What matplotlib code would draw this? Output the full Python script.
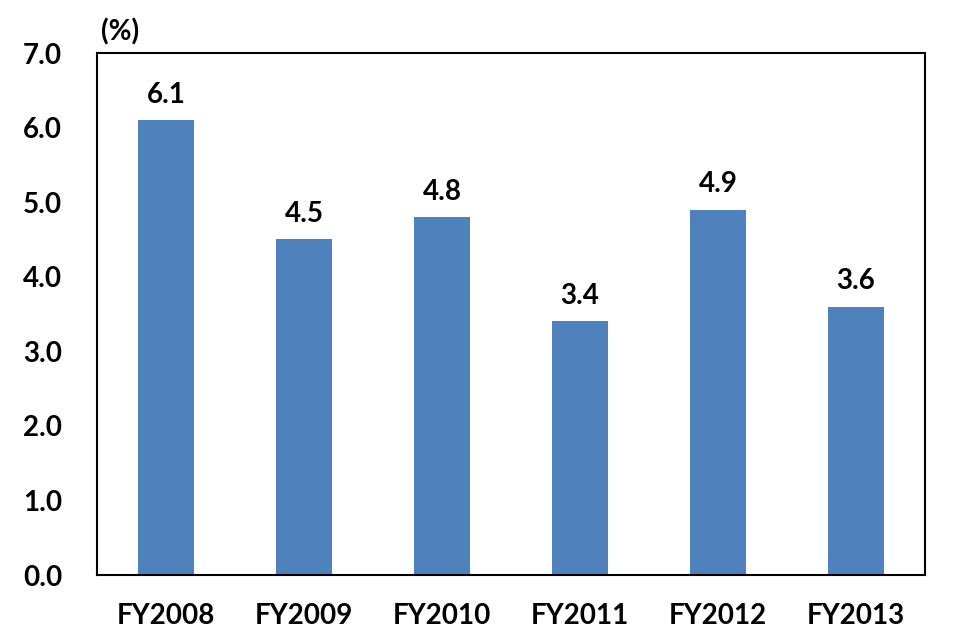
import matplotlib.pyplot as plt
import numpy as np

plt.rcParams['font.family'] = ['Lato', 'DejaVu Sans']
plt.rcParams['font.weight'] = 'bold'

anos = ["FY2008", "FY2009", "FY2010", "FY2011", "FY2012", "FY2013"]
valores = [6.1, 4.5, 4.8, 3.4, 4.9, 3.6]

fig = plt.figure(figsize=(9.77, 6.38), dpi=100)
ax = fig.add_axes([97/977, 1 - 575/638, (925-97)/977, (575-53)/638])

x = np.arange(len(anos))
barras = ax.bar(x, valores, width=0.4, color="#4F81BD")

for xi, v in zip(x, valores):
    ax.annotate(f"{v:.1f}", (xi, v), xytext=(0, 9), textcoords="offset points",
                ha="center", va="bottom", fontsize=20, fontweight="bold")

ax.set_xlim(-0.5, len(anos) - 0.5)
ax.set_ylim(0, 7)
ax.set_yticks(np.arange(0, 7.1, 1.0))
ax.set_yticklabels([f"{t:.1f}" for t in np.arange(0, 7.1, 1.0)])
ax.set_xticks(x)
ax.set_xticklabels(anos)
ax.tick_params(axis="both", length=0, labelsize=20)
ax.tick_params(axis="y", pad=25)
ax.tick_params(axis="x", pad=20)
for s in ax.spines.values():
    s.set_linewidth(1.5)

ax.text(0.005, 1.015, "(%)", transform=ax.transAxes, fontsize=20,
        fontweight="bold", ha="left", va="bottom")

plt.savefig("out.png", dpi=100)
